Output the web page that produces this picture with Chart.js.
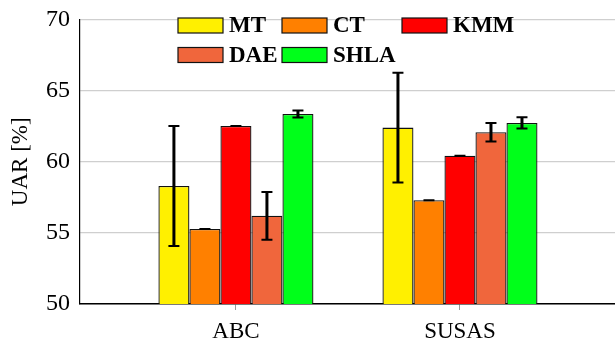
<!DOCTYPE html>
<html>
<head>
<meta charset="utf-8">
<script src="https://cdn.jsdelivr.net/npm/chart.js@4"></script>
<style>
  html, body { margin: 0; padding: 0; background: #fff; }
  #wrap { width: 615px; height: 342px; }
</style>
</head>
<body>
<div id="wrap"><canvas id="uarChart"></canvas></div>
<script>
// Categories and methods
const categories = ['ABC', 'SUSAS'];
const methods = ['MT', 'CT', 'KMM', 'DAE', 'SHLA'];

// UAR [%] per method, one value per category
const mtValues = [58.3, 62.4];
const ctValues = [55.27, 57.3];
const kmmValues = [62.52, 60.43];
const daeValues = [56.2, 62.07];
const shlaValues = [63.36, 62.73];

// Error bar half-widths
const mtErrors = [4.22, 3.85];
const ctErrors = [0, 0];
const kmmErrors = [0, 0];
const daeErrors = [1.68, 0.65];
const shlaErrors = [0.25, 0.4];

const yTicks = [50, 55, 60, 65, 70];

const colors = ['#fff000', '#ff8000', '#ff0000', '#f0663c', '#00ff1a'];
const allValues = [mtValues, ctValues, kmmValues, daeValues, shlaValues];
const allErrors = [mtErrors, ctErrors, kmmErrors, daeErrors, shlaErrors];

const serif = "'Liberation Serif', 'DejaVu Serif', serif";

// Draw error bars on top of the bars
const errorBarPlugin = {
    id: 'errorBars',
    afterDatasetsDraw(chart) {
        const ctx = chart.ctx;
        const yScale = chart.scales.y;
        ctx.save();
        ctx.strokeStyle = '#000';
        chart.data.datasets.forEach((ds, i) => {
            const meta = chart.getDatasetMeta(i);
            meta.data.forEach((bar, j) => {
                const v = ds.data[j].y;
                const e = ds.errors[j];
                const x = bar.x;
                const top = yScale.getPixelForValue(v + e);
                const bot = yScale.getPixelForValue(v - e);
                ctx.lineWidth = 3;
                ctx.beginPath();
                ctx.moveTo(x, top);
                ctx.lineTo(x, bot);
                ctx.stroke();
                ctx.lineWidth = 2;
                ctx.beginPath();
                ctx.moveTo(x - 5.5, top);
                ctx.lineTo(x + 5.5, top);
                ctx.moveTo(x - 5.5, bot);
                ctx.lineTo(x + 5.5, bot);
                ctx.stroke();
            });
        });
        ctx.restore();
    }
};

// Legend laid out as a 3-column grid inside the plot
const gridLegendPlugin = {
    id: 'gridLegend',
    afterDraw(chart) {
        const ctx = chart.ctx;
        const colX = [178, 282, 402];
        const rowY = [25.5, 55];
        ctx.save();
        ctx.font = 'bold 23px ' + serif;
        ctx.textBaseline = 'middle';
        ctx.textAlign = 'left';
        chart.data.datasets.forEach((ds, i) => {
            const x = colX[i % 3];
            const y = rowY[Math.floor(i / 3)];
            ctx.fillStyle = ds.backgroundColor;
            ctx.fillRect(x, y - 7.5, 45, 15);
            ctx.strokeStyle = '#111';
            ctx.lineWidth = 1.2;
            ctx.strokeRect(x, y - 7.5, 45, 15);
            ctx.fillStyle = '#000';
            ctx.fillText(ds.label, x + 51, y + 1);
        });
        ctx.restore();
    }
};

const datasets = methods.map((m, i) => ({
    label: m,
    data: allValues[i].map((v, j) => ({ x: j, y: v })),
    errors: allErrors[i],
    backgroundColor: colors[i],
    borderColor: '#111',
    borderWidth: 1.3,
    borderSkipped: false,
    barPercentage: 1.0,
    categoryPercentage: 0.692
}));

const ctx = document.getElementById('uarChart').getContext('2d');
new Chart(ctx, {
    type: 'bar',
    data: { datasets: datasets },
    options: {
        responsive: true,
        maintainAspectRatio: false,
        animation: false,
        layout: { padding: { top: 19.5, right: 0, left: 0, bottom: 0 } },
        plugins: {
            legend: { display: false },
            tooltip: { enabled: false }
        },
        scales: {
            x: {
                type: 'linear',
                min: -0.696,
                max: 1.692,
                offset: false,
                grid: {
                    offset: false,
                    drawOnChartArea: false,
                    drawTicks: true,
                    tickLength: 6,
                    color: '#999'
                },
                border: { color: '#000', width: 1.5 },
                ticks: {
                    stepSize: 1,
                    includeBounds: false,
                    autoSkip: false,
                    maxRotation: 0,
                    padding: 8,
                    color: '#000',
                    font: { family: serif, size: 23 },
                    callback: v => categories[v] !== undefined && Number.isInteger(v) ? categories[v] : ''
                },
                afterFit: scale => {
                    scale.height = 38;
                    scale.paddingLeft = 0;
                    scale.paddingRight = 0;
                }
            },
            y: {
                min: yTicks[0],
                max: yTicks[yTicks.length - 1],
                grid: { color: '#cfcfcf', lineWidth: 1.2, drawTicks: false },
                border: { color: '#000', width: 1.2 },
                ticks: {
                    stepSize: 5,
                    padding: 10,
                    color: '#000',
                    font: { family: serif, size: 24 }
                },
                title: {
                    display: true,
                    text: 'UAR [%]',
                    color: '#000',
                    font: { family: serif, size: 23 },
                    padding: { top: 7, bottom: 0 }
                },
                afterFit: scale => {
                    scale.width = 80;
                    scale.paddingTop = 0;
                    scale.paddingBottom = 0;
                }
            }
        }
    },
    plugins: [errorBarPlugin, gridLegendPlugin]
});
</script>
</body>
</html>
